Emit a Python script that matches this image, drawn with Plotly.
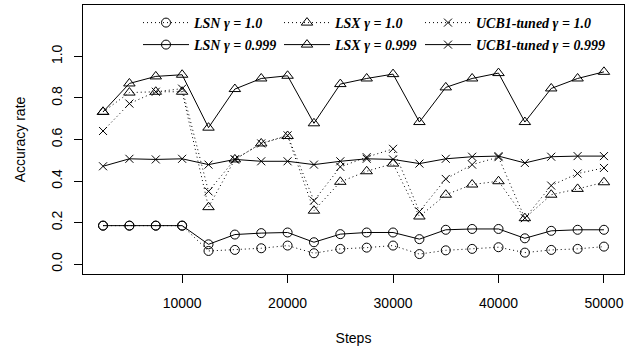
import plotly.graph_objects as go

steps = [2500, 5000, 7500, 10000, 12500, 15000, 17500, 20000, 22500, 25000,
         27500, 30000, 32500, 35000, 37500, 40000, 42500, 45000, 47500, 50000]

lsn_g1 = [0.185, 0.185, 0.185, 0.185, 0.063, 0.068, 0.076, 0.089, 0.052, 0.073,
          0.079, 0.089, 0.048, 0.066, 0.073, 0.081, 0.055, 0.068, 0.073, 0.084]
lsn_g999 = [0.185, 0.185, 0.185, 0.185, 0.095, 0.142, 0.149, 0.152, 0.105, 0.144,
            0.152, 0.152, 0.120, 0.165, 0.169, 0.169, 0.124, 0.160, 0.165, 0.165]
lsx_g1 = [0.733, 0.826, 0.830, 0.830, 0.274, 0.504, 0.581, 0.617, 0.257, 0.396,
          0.447, 0.484, 0.229, 0.334, 0.383, 0.399, 0.221, 0.334, 0.362, 0.394]
lsx_g999 = [0.733, 0.870, 0.904, 0.912, 0.657, 0.843, 0.894, 0.907, 0.678, 0.867,
            0.894, 0.915, 0.684, 0.851, 0.894, 0.920, 0.684, 0.846, 0.894, 0.926]
ucb_g1 = [0.641, 0.773, 0.830, 0.845, 0.350, 0.504, 0.581, 0.620, 0.305, 0.468,
          0.515, 0.555, 0.253, 0.410, 0.479, 0.515, 0.221, 0.378, 0.436, 0.463]
ucb_g999 = [0.471, 0.507, 0.504, 0.507, 0.479, 0.504, 0.495, 0.495, 0.479, 0.495,
            0.507, 0.504, 0.484, 0.507, 0.517, 0.520, 0.487, 0.517, 0.520, 0.520]

y_ticks = [0.0, 0.2, 0.4, 0.6, 0.8, 1.0]
y_ticktext = ["0.0", "0.2", "0.4", "0.6", "0.8", "1.0"]
x_ticks = [10000, 20000, 30000, 40000, 50000]
x_ticktext = ["10000", "20000", "30000", "40000", "50000"]

series = [
    ("LSN γ = 1.0", lsn_g1, "circle-open", 9, "1px,3px", "legend"),
    ("LSX γ = 1.0", lsx_g1, "triangle-up-open", 10, "1px,3px", "legend"),
    ("UCB1-tuned γ = 1.0", ucb_g1, "x-thin-open", 8, "1px,3px", "legend"),
    ("LSN γ = 0.999", lsn_g999, "circle-open", 9, "solid", "legend2"),
    ("LSX γ = 0.999", lsx_g999, "triangle-up-open", 10, "solid", "legend2"),
    ("UCB1-tuned γ = 0.999", ucb_g999, "x-thin-open", 8, "solid", "legend2"),
]

ENTRY_W = 80

fig = go.Figure()
for name, vals, sym, size, dash, leg in series:
    fig.add_trace(go.Scatter(
        x=steps, y=vals, mode="lines+markers", name="<b><i>" + name + "</i></b>",
        line=dict(color="black", width=1, dash=dash),
        marker=dict(symbol=sym, size=size, color="black",
                    line=dict(color="black", width=1)),
        legend=leg,
        legendwidth=150 if name.startswith("UCB") else ENTRY_W,
    ))

axis_font = dict(family="Liberation Sans, Arial, sans-serif", size=14, color="black")
leg_font = dict(family="Liberation Serif, Times New Roman, serif", size=14, color="black")

L, R, T, B = 83, 13, 5, 77
PW, PH = 637 - L - R, 351 - T - B


def px_x(px):
    return (px - L) / PW


def px_y(py):
    return (351 - B - py) / PH


fig.update_layout(
    width=637, height=351,
    margin=dict(l=L, r=R, t=T, b=B, autoexpand=False),
    plot_bgcolor="white", paper_bgcolor="white",
    font=axis_font,
    xaxis=dict(range=[600, 51900], tickvals=x_ticks, ticktext=x_ticktext,
               ticks="outside", ticklen=8,
               tickcolor="black", tickwidth=1, showline=True, mirror=True,
               linecolor="black", linewidth=1, showgrid=False, zeroline=False,
               tickfont=axis_font, ticklabelstandoff=8, automargin=False,
               title=dict(text="Steps", font=axis_font, standoff=23)),
    yaxis=dict(range=[-0.048, 1.248], tickvals=y_ticks, ticktext=y_ticktext,
               tickangle=-90, ticks="outside", ticklen=8,
               tickcolor="black", tickwidth=1, showline=True, mirror=True,
               linecolor="black", linewidth=1, showgrid=False, zeroline=False,
               tickfont=axis_font, ticklabelstandoff=6, automargin=False,
               title=dict(text="Accuracy rate", font=axis_font, standoff=20)),
    legend=dict(orientation="h", x=px_x(138), y=px_y(23),
                xanchor="left", yanchor="middle", itemwidth=46,
                bgcolor="rgba(0,0,0,0)", font=leg_font,
                traceorder="normal"),
    legend2=dict(orientation="h", x=px_x(138), y=px_y(45),
                 xanchor="left", yanchor="middle", itemwidth=46,
                 bgcolor="rgba(0,0,0,0)", font=leg_font,
                 traceorder="normal"),
)

fig.write_html("out.html")
